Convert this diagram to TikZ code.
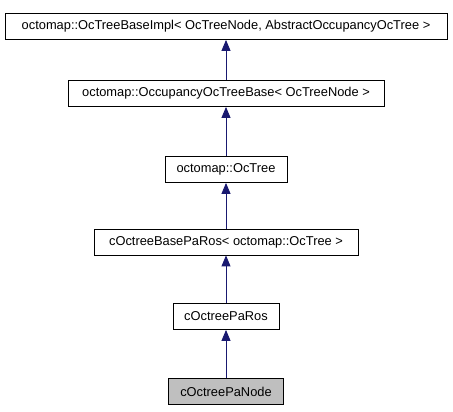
\documentclass[tikz,border=0pt]{standalone}
\usepackage{fontspec}
\setmainfont{Liberation Sans}
\usetikzlibrary{arrows.meta}
\definecolor{edgeblue}{HTML}{191970}
\tikzset{
  cls/.style={draw=black,line width=0.8bp,minimum height=26bp,inner sep=0pt,font=\fontsize{12.9}{15}\selectfont},
  inh/.style={edgeblue,line width=0.9bp,{Triangle[width=9bp,length=11bp]}-}
}

\begin{document}
\begin{tikzpicture}[x=1bp,y=-1bp]
					\useasboundingbox (0,0) rectangle (453,411);
					%CLASSES
					\node[cls,minimum width=442bp] (impl) at (226,26.5) {octomap::OcTreeBaseImpl< OcTreeNode, AbstractOccupancyOcTree >};
					\node[cls,minimum width=316bp] (occbase) at (226,93.5) {octomap::OccupancyOcTreeBase< OcTreeNode >};
					\node[cls,minimum width=122bp] (octree) at (226,169.5) {octomap::OcTree};
					\node[cls,minimum width=264bp] (basepa) at (226,242) {cOctreeBasePaRos< octomap::OcTree >};
					\node[cls,minimum width=106bp] (paros) at (226,316.5) {cOctreePaRos};
					\node[cls,minimum width=115bp,fill=black!25] (panode) at (226,391.5) {cOctreePaNode};
					%INHERITANCE
					\draw[inh] (impl) -- (occbase);
					\draw[inh] (occbase) -- (octree);
					\draw[inh] (octree) -- (basepa);
					\draw[inh] (basepa) -- (paros);
					\draw[inh] (paros) -- (panode);
\end{tikzpicture}
\end{document}
